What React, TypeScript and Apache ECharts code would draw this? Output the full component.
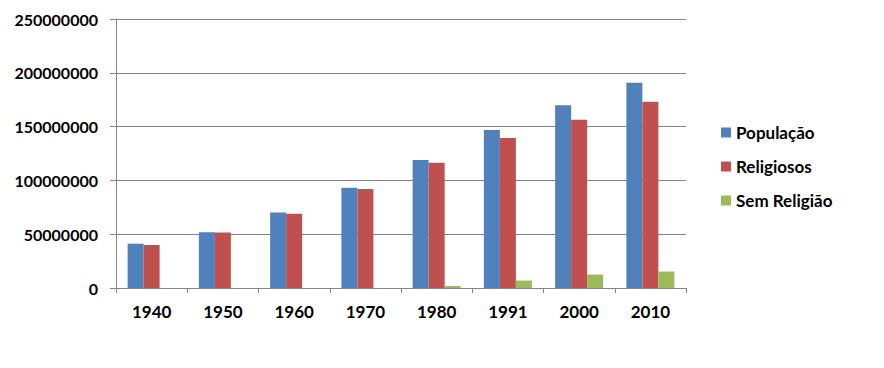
import React, { useEffect, useRef } from "react";
import * as echarts from "echarts";

const categories = ["1940", "1950", "1960", "1970", "1980", "1991", "2000", "2010"];
const populacao = [41200000, 51900000, 70100000, 93100000, 119000000, 146800000, 169800000, 190700000];
const religiosos = [40000000, 51500000, 69000000, 92000000, 116500000, 139500000, 156300000, 173000000];
const semReligiao = [0, 0, 0, 0, 1900000, 6900000, 12500000, 15300000];
const seriesNames = ["População", "Religiosos", "Sem Religião"];
const colors = ["#4F81BD", "#C0504D", "#9BBB59"];

const FONT = "Lato, 'Open Sans', sans-serif";

export default function App() {
  const ref = useRef<HTMLDivElement>(null);
  useEffect(() => {
    if (!ref.current) return;
    const chart = echarts.init(ref.current, undefined, { renderer: "svg" });
    const data = [populacao, religiosos, semReligiao];
    chart.setOption({
      animation: false,
      backgroundColor: "#ffffff",
      textStyle: { fontFamily: FONT },
      grid: { left: 116, top: 19, right: 198, bottom: 80, containLabel: false },
      legend: {
        orient: "vertical",
        left: 716,
        top: 119,
        itemWidth: 10,
        itemHeight: 10,
        itemGap: 17,
        icon: "rect",
        textStyle: { color: "#000", fontWeight: "bold", fontSize: 17, fontFamily: FONT },
        data: seriesNames,
      },
      xAxis: {
        type: "category",
        data: categories,
        axisLine: { show: true, lineStyle: { color: "#868686", width: 1 } },
        axisTick: { show: true, length: 5, lineStyle: { color: "#868686" } },
        axisLabel: { color: "#000", fontWeight: "bold", fontSize: 17, margin: 15, fontFamily: FONT },
      },
      yAxis: {
        type: "value",
        min: 0,
        max: 250000000,
        interval: 50000000,
        axisLine: { show: true, lineStyle: { color: "#868686", width: 1 } },
        axisTick: { show: true, length: 6, lineStyle: { color: "#868686" } },
        splitLine: { show: true, lineStyle: { color: "#868686", width: 1 } },
        axisLabel: {
          color: "#000",
          fontWeight: "bold",
          fontSize: 16,
          margin: 18,
          fontFamily: FONT,
          formatter: (v: number) => String(v),
        },
      },
      series: seriesNames.map((name, i) => ({
        name,
        type: "bar",
        data: data[i],
        barWidth: 16,
        barGap: "0%",
        itemStyle: { color: colors[i] },
      })),
    });
    return () => chart.dispose();
  }, []);
  return <div ref={ref} style={{ width: 884, height: 368, position: "absolute", left: 0, top: 0 }} />;
}
